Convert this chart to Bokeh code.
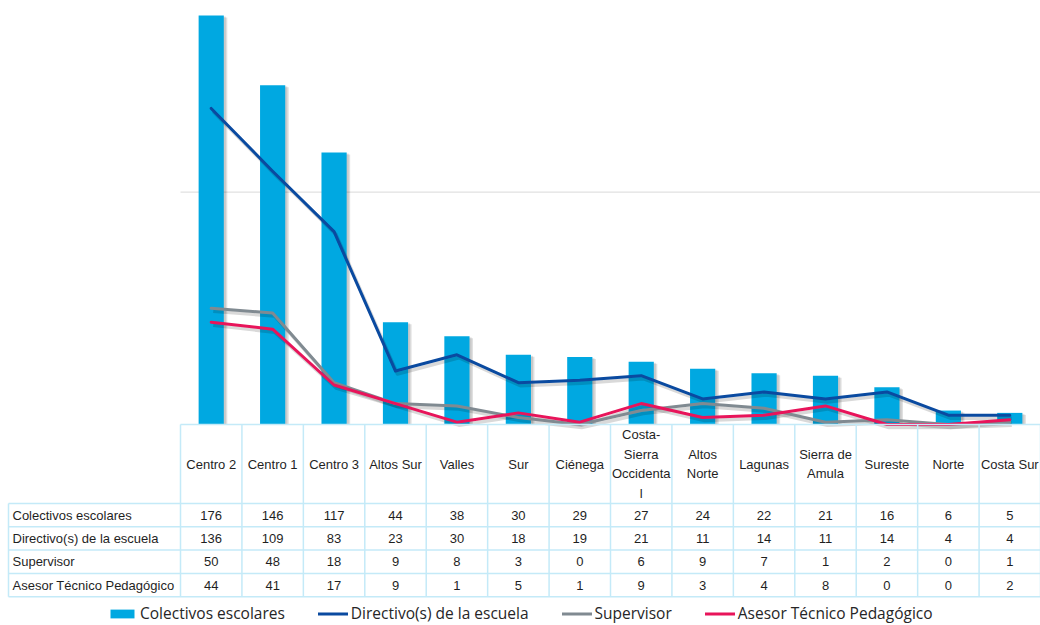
from bokeh.plotting import figure
from bokeh.models import Range1d, Legend, LegendItem
from bokeh.core.properties import value
from bokeh.embed import file_html
from bokeh.resources import INLINE

# ---- data ----
categories = ["Centro 2", "Centro 1", "Centro 3", "Altos Sur", "Valles", "Sur", "Ciénega",
              "Costa-Sierra Occidental", "Altos Norte", "Lagunas", "Sierra de Amula",
              "Sureste", "Norte", "Costa Sur"]
header_labels = ["Centro 2", "Centro 1", "Centro 3", "Altos Sur", "Valles", "Sur", "Ciénega",
                 "Costa-\nSierra\nOccidenta\nl", "Altos\nNorte", "Lagunas", "Sierra de\nAmula",
                 "Sureste", "Norte", "Costa Sur"]
series_names = ["Colectivos escolares", "Directivo(s) de la escuela", "Supervisor",
                "Asesor Técnico Pedagógico"]
colectivos = [176, 146, 117, 44, 38, 30, 29, 27, 24, 22, 21, 16, 6, 5]
directivo = [136, 109, 83, 23, 30, 18, 19, 21, 11, 14, 11, 14, 4, 4]
supervisor = [50, 48, 18, 9, 8, 3, 0, 6, 9, 7, 1, 2, 0, 1]
asesor = [44, 41, 17, 9, 1, 5, 1, 9, 3, 4, 8, 0, 0, 2]
grid_ticks = [100]

# ---- styles ----
BAR = "#00A8E1"
DIR = "#0A4AA0"
SUP = "#808A91"
ATP = "#E8145A"
BORDER = "#C4EAF8"
TXT = "#1F1F1F"
FONT = value("Liberation Sans")

W, H = 1040, 625
frame_left_px = 180      # where the category columns start
label_left_px = 8        # where the row-label column starts
base_px = 424            # vertical position of the value baseline
n = len(categories)
col_px = (W - frame_left_px) / n
ppu = 2.324  # pixels per data unit (vertical)
x0 = -frame_left_px / col_px
xl = -(frame_left_px - label_left_px) / col_px

p = figure(width=W, height=H, output_backend="svg", toolbar_location=None,
           x_range=Range1d(x0, n), y_range=Range1d(-(H - base_px) / ppu, base_px / ppu),
           min_border=0, min_border_left=0, min_border_right=0,
           min_border_top=0, min_border_bottom=0)
p.xaxis.visible = False
p.yaxis.visible = False
p.xgrid.visible = False
p.ygrid.visible = False
p.outline_line_color = None
p.background_fill_color = "white"
p.border_fill_color = "white"

xs = [i + 0.5 for i in range(n)]

# gridline
for t in grid_ticks:
    p.segment(x0=[0], x1=[n], y0=[t], y1=[t], line_color="#D9D9D9", line_width=1)

# bar shadows
dx = 3.5 / col_px
dy = 2.0 / ppu
p.vbar(x=[x + dx for x in xs], top=[v - dy for v in colectivos], bottom=0, width=0.41,
       fill_color="black", fill_alpha=0.12, line_color=None)
p.vbar(x=[x + dx * 0.6 for x in xs], top=[v - dy * 0.5 for v in colectivos], bottom=0,
       width=0.41, fill_color="black", fill_alpha=0.10, line_color=None)
bars = p.vbar(x=xs, top=colectivos, bottom=0, width=0.41, fill_color=BAR, line_color=None)

# line shadows + lines
line_rs = []
for data, col in [(directivo, DIR), (supervisor, SUP), (asesor, ATP)]:
    p.line([x + 2 / col_px for x in xs], [v - 3 / ppu for v in data], line_color="black",
           line_alpha=0.15, line_width=3.5, line_join="round")
for data, col in [(directivo, DIR), (supervisor, SUP), (asesor, ATP)]:
    r = p.line(xs, data, line_color=col, line_width=3, line_join="round", line_cap="round")
    line_rs.append(r)

# ---- data table ----
def u(px):
    return px / ppu

header_h = u(79)
row_h = u(23.3)
y_head_bot = -header_h
row_lines = [y_head_bot - k * row_h for k in range(5)]
table_bot = row_lines[-1]

# horizontal lines
p.segment(x0=[0], x1=[n], y0=[0], y1=[0], line_color=BORDER, line_width=1.5)
p.segment(x0=[xl] * 5, x1=[n] * 5, y0=row_lines, y1=row_lines,
          line_color=BORDER, line_width=1.5)
# vertical lines
vx = list(range(n + 1))
p.segment(x0=vx, x1=vx, y0=[0] * len(vx), y1=[table_bot] * len(vx),
          line_color=BORDER, line_width=1.5)
p.segment(x0=[xl], x1=[xl], y0=[y_head_bot], y1=[table_bot],
          line_color=BORDER, line_width=1.5)

# header labels
p.text(x=xs, y=[-header_h / 2] * n, text=header_labels, text_align="center",
       text_baseline="middle", text_font=FONT, text_font_size="13px", text_color=TXT,
       text_line_height=1.3)

# row labels and values
all_series = [colectivos, directivo, supervisor, asesor]
for k, (name, data) in enumerate(zip(series_names, all_series)):
    yc = y_head_bot - (k + 0.5) * row_h
    p.text(x=[xl + 4 / col_px], y=[yc], text=[name], text_align="left",
           text_baseline="middle", text_font=FONT, text_font_size="13px", text_color=TXT)
    p.text(x=xs, y=[yc] * n, text=[str(v) for v in data], text_align="center",
           text_baseline="middle", text_font=FONT, text_font_size="13px", text_color=TXT)

# ---- legend ----
legend = Legend(items=[LegendItem(label=series_names[0], renderers=[bars])] +
                [LegendItem(label=nm, renderers=[r]) for nm, r in zip(series_names[1:], line_rs)],
                orientation="horizontal", location=(107, 1),
                background_fill_alpha=0, border_line_color=None,
                label_text_font="Open Sans", label_text_font_size="15.5px",
                label_text_color="#262626", glyph_width=30, glyph_height=11,
                label_standoff=3, spacing=33, padding=0, margin=0,
                label_height=16)
p.add_layout(legend)

open("out.html", "w").write(file_html(p, INLINE))
